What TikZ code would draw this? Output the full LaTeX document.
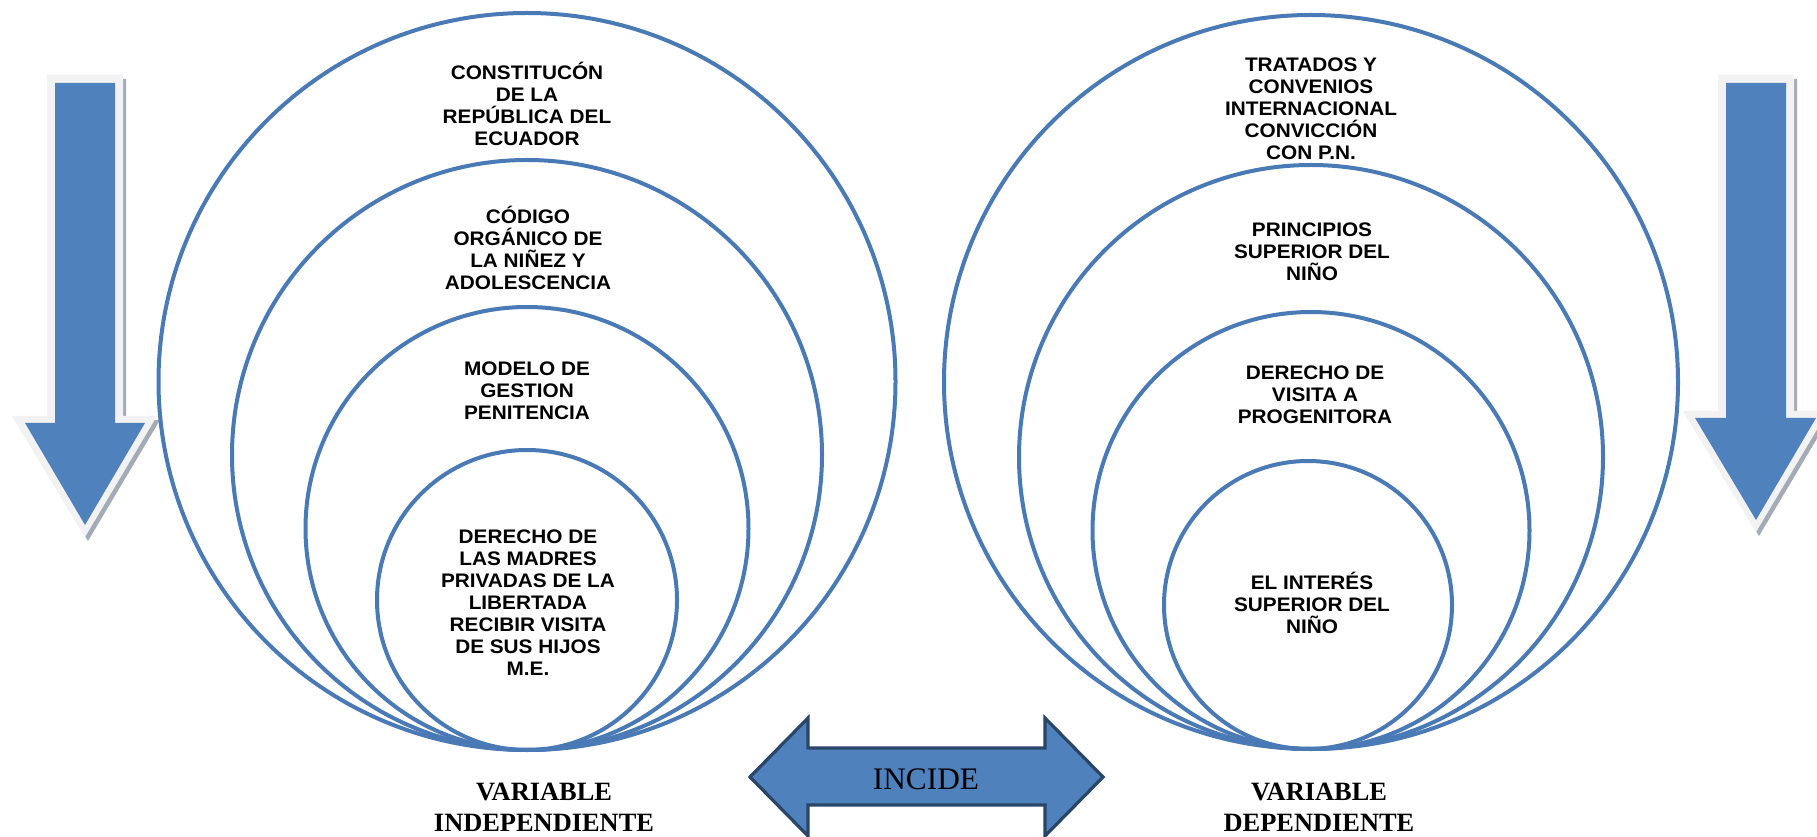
\documentclass[tikz,border=0pt]{standalone}
\usepackage{fontspec}
\setmainfont{Liberation Serif}
\newfontfamily\arialf[FakeStretch=1.06]{Liberation Sans}
\definecolor{ringblue}{HTML}{4A7AB5}
\definecolor{arrowblue}{HTML}{4F81BD}
\definecolor{arrowedge}{HTML}{F2F2F2}
\definecolor{shadowgray}{HTML}{A3ABB6}
\definecolor{navyedge}{HTML}{2A4667}
\begin{document}
\begin{tikzpicture}[x=0.75pt,y=-0.75pt,
  ring/.style={circle,draw=ringblue,line width=3pt,inner sep=0pt},
  ringtext/.style={align=center,inner sep=0pt,font=\arialf\bfseries\fontsize{14.7}{16.5}\selectfont},
  varlabel/.style={align=center,inner sep=0pt,font=\bfseries\fontsize{19.8}{23.25}\selectfont},
  arrowshadow/.style={fill=shadowgray},
  arrowrim/.style={fill=arrowedge},
  arrowbody/.style={fill=arrowblue},
  dblarrow/.style={fill=arrowblue,draw=navyedge,line width=2.4pt,line join=miter}]
\clip (0,0) rectangle (1817,837);
\fill[white] (0,0) rectangle (1817,837);

% ---------- left vertical arrow ----------
\fill[arrowshadow] (50,79) -- (126,79) -- (126,420) -- (160,420) -- (88,541) -- (15,420) -- (50,420) -- cycle;
\fill[arrowrim] (47,75) -- (123,75) -- (123,416) -- (157,416) -- (85,537) -- (12,416) -- (47,416) -- cycle;
\fill[arrowbody] (55,83) -- (115,83) -- (115,423) -- (145,423) -- (85,525) -- (25,423) -- (55,423) -- cycle;

% ---------- right vertical arrow ----------
\fill[arrowshadow] (1721,79) -- (1797,79) -- (1797,415) -- (1831,415) -- (1759,536) -- (1686,415) -- (1721,415) -- cycle;
\fill[arrowrim] (1718,75) -- (1794,75) -- (1794,411) -- (1828,411) -- (1756,532) -- (1683,411) -- (1718,411) -- cycle;
\fill[arrowbody] (1726,83) -- (1786,83) -- (1786,418) -- (1816,418) -- (1756,520) -- (1695,418) -- (1726,418) -- cycle;

% ---------- left circles ----------
\node[ring,minimum size=552.75pt] (cL1) at (527,381.5) {};
\node[ring,minimum size=442.5pt]  (cL2) at (527,455) {};
\node[ring,minimum size=332.25pt] (cL3) at (527,528.5) {};
\node[ring,minimum size=225pt]    (cL4) at (527,600) {};

\node[ringtext] (tL1) at (527,104.3) {\vphantom{Ó}CONSTITUCÓN\\DE LA\\REPÚBLICA DEL\\ECUADOR};
\node[ringtext] (tL2) at (528,247.8) {\vphantom{Ó}CÓDIGO\\ORGÁNICO DE\\LA NIÑEZ Y\\ADOLESCENCIA};
\node[ringtext] (tL3) at (527,389.3) {\vphantom{Ó}MODELO DE\\GESTION\\PENITENCIA};
\node[ringtext] (tL4) at (528,600.4) {\vphantom{Ó}DERECHO DE\\LAS MADRES\\PRIVADAS DE LA\\LIBERTADA\\RECIBIR VISITA\\DE SUS HIJOS\\M.E.};

% ---------- right circles ----------
\node[ring,minimum size=550.5pt] (cR1) at (1311,382) {};
\node[ring,minimum size=438pt]   (cR2) at (1311,457) {};
\node[ring,minimum size=327.75pt] (cR3) at (1311,530.5) {};
\node[ring,minimum size=216pt]   (cR4) at (1308,605) {};

\node[ringtext] (tR1) at (1311,106.6) {\vphantom{Ó}TRATADOS Y\\CONVENIOS\\INTERNACIONAL\\CONVICCIÓN\\CON P.N.};
\node[ringtext] (tR2) at (1312,250) {\vphantom{Ó}PRINCIPIOS\\SUPERIOR DEL\\NIÑO};
\node[ringtext] (tR3) at (1315,393.3) {\vphantom{Ó}DERECHO DE\\VISITA A\\PROGENITORA};
\node[ringtext] (tR4) at (1312,603) {\vphantom{Ó}EL INTERÉS\\SUPERIOR DEL\\NIÑO};

% ---------- INCIDE double arrow ----------
\draw[dblarrow] (750,777) -- (808,718) -- (808,748) -- (1045,748) -- (1045,718) -- (1103,777)
  -- (1045,836) -- (1045,805) -- (808,805) -- (808,836) -- cycle;
\node[anchor=base,inner sep=0pt,font=\fontsize{23.5}{28}\selectfont] (incide) at (926,789) {INCIDE};

% ---------- variable labels ----------
\node[varlabel] (vind) at (544,807.2) {VARIABLE\\INDEPENDIENTE};
\node[varlabel] (vdep) at (1319,807.2) {VARIABLE\\DEPENDIENTE};
\end{tikzpicture}
\end{document}
